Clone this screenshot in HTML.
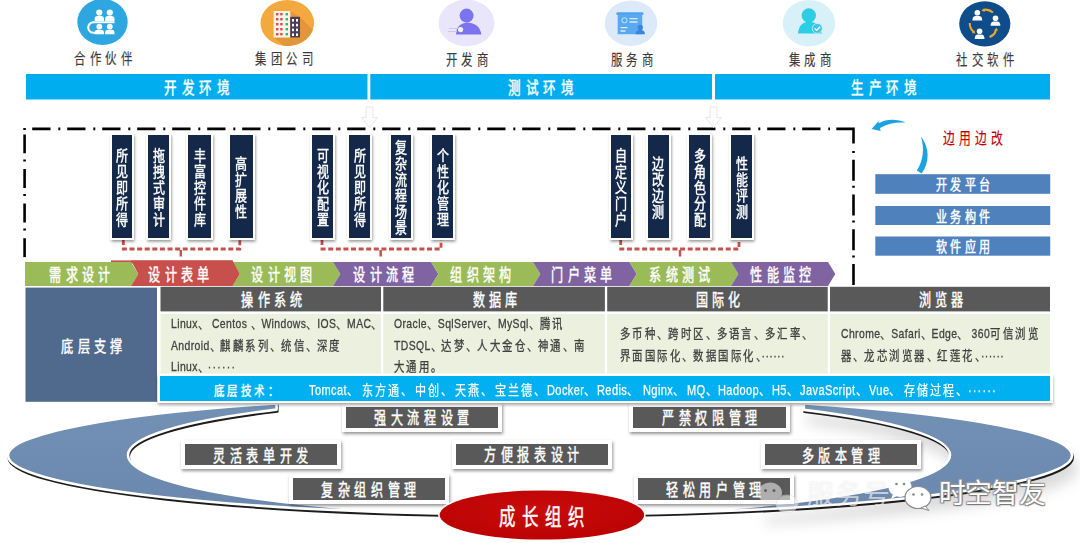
<!DOCTYPE html>
<html lang="zh-CN">
<head>
<meta charset="utf-8">
<title>低代码平台架构图</title>
<style>
html,body{margin:0;padding:0;background:#fff;}
body{width:1080px;height:543px;overflow:hidden;position:relative;font-family:"Liberation Sans", sans-serif;}
#stage{position:absolute;left:0;top:0;width:1080px;height:543px;overflow:hidden;background:#fff;}
svg{position:absolute;left:0;top:0;}
.t{position:absolute;white-space:nowrap;margin:0;}
.t.c{transform-origin:50% 50%;}
.s{-webkit-text-stroke:.45px currentColor;}
.s2{-webkit-text-stroke:.15px currentColor;}
.t.l{transform-origin:0 50%;}
.b{position:absolute;}
.vb{position:absolute;background:#14294a;border:2.5px solid #fff;box-shadow:.5px 1.5px 3px rgba(0,0,0,.45);box-sizing:border-box;}
.vt{position:absolute;color:#fff;text-align:center;transform-origin:50% 50%;}
.gb{position:absolute;background:#595959;border:4px solid #fff;box-shadow:1px 2px 3px rgba(0,0,0,.42);box-sizing:border-box;}
</style>
</head>
<body>
<div id="stage">

<svg width="1080" height="543" viewBox="0 0 1080 543">
<defs>
<filter id="rs" x="-10%" y="-30%" width="120%" height="170%"><feGaussianBlur stdDeviation="7"/></filter>
<filter id="rb" x="-2%" y="-5%" width="104%" height="110%"><feGaussianBlur stdDeviation=".6"/></filter>
<linearGradient id="rg" x1="0" y1="0" x2="0" y2="1"><stop offset="0" stop-color="#7391b5"/><stop offset="1" stop-color="#6a87ad"/></linearGradient>
<radialGradient id="redg" cx="50%" cy="40%" r="60%"><stop offset="0" stop-color="#c90b0b"/><stop offset="1" stop-color="#bb0303"/></radialGradient>
</defs>
<clipPath id="cr"><rect x="760" y="380" width="320" height="163"/></clipPath>
<g filter="url(#rs)" transform="translate(5,13)"><g clip-path="url(#cr)"><path d="M 276.6 403.37 A 532 60 0 0 0 8 455.5 A 532 59 0 0 0 540 514.5 A 532 59 0 0 0 1072 455.5 A 532 60 0 0 0 803.8 403.40 L 803.8 409.88 A 411 59 0 0 1 950 455 A 411 60 0 0 1 539 515 A 411 60 0 0 1 128 455 A 411 59 0 0 1 276.6 409.59 Z" fill="#000" fill-opacity=".14" stroke="#000" stroke-opacity=".14" stroke-width="2"/></g></g>
<g filter="url(#rb)"><path d="M 276.6 403.37 A 532 60 0 0 0 8 455.5 A 532 59 0 0 0 540 514.5 A 532 59 0 0 0 1072 455.5 A 532 60 0 0 0 803.8 403.40 L 803.8 409.88 A 411 59 0 0 1 950 455 A 411 60 0 0 1 539 515 A 411 60 0 0 1 128 455 A 411 59 0 0 1 276.6 409.59 Z" fill="#1c1c1c" stroke="#1c1c1c" stroke-width="2.6" stroke-linejoin="round" transform="translate(.7,1.9)"/></g>
<path d="M 276.6 403.37 A 532 60 0 0 0 8 455.5 A 532 59 0 0 0 540 514.5 A 532 59 0 0 0 1072 455.5 A 532 60 0 0 0 803.8 403.40 L 803.8 409.88 A 411 59 0 0 1 950 455 A 411 60 0 0 1 539 515 A 411 60 0 0 1 128 455 A 411 59 0 0 1 276.6 409.59 Z" fill="url(#rg)" stroke="#fff" stroke-width="2.6" stroke-linejoin="round"/>
<g fill="none" stroke="#000" stroke-width="2.6">
<path d="M 32.2 128.9 H 830" stroke-dasharray="18.3 7.8 2 6.9"/>
<path d="M 836.3 128.9 H 853.5 V 143.5"/>
<path d="M 853.5 151 V 286.5" stroke-dasharray="2 6.7 21 5.1"/>
<path d="M 24.6 128 v 2"/>
<path d="M 24.6 134.4 V 257.5" stroke-dasharray="18.9 6.1 2 7.6"/>
</g>
<rect x="26" y="74" width="341.5" height="25.5" fill="#00adef"/>
<rect x="370.3" y="74" width="341.7" height="25.5" fill="#00adef"/>
<rect x="715" y="74" width="335" height="25.5" fill="#00adef"/>
<path d="M 369.5 107 h7 v10.5 h4.5 l-8 10 l-8 -10 h4.5 z" fill="#fdfdfd" stroke="#e8e8e8" stroke-width="1" transform="translate(-3.5,0)"/>
<path d="M 713.5 107 h7 v10.5 h4.5 l-8 10 l-8 -10 h4.5 z" fill="#fdfdfd" stroke="#e8e8e8" stroke-width="1" transform="translate(-3.5,0)"/>
<path d="M 123.3 240 V 249 H 239.8 V 240" fill="none" stroke="#c7504d" stroke-width="2.8" stroke-dasharray="5 2.6"/>
<path d="M 180.8 250 V 256.5" fill="none" stroke="#c7504d" stroke-width="2.5"/>
<path d="M 322 240 V 249 H 441 V 240" fill="none" stroke="#c7504d" stroke-width="2.8" stroke-dasharray="5 2.6"/>
<path d="M 380.7 250 V 256.5" fill="none" stroke="#c7504d" stroke-width="2.5"/>
<path d="M 620.7 240 V 249 H 739 V 240" fill="none" stroke="#c7504d" stroke-width="2.8" stroke-dasharray="5 2.6"/>
<path d="M 680 250 V 256.5" fill="none" stroke="#c7504d" stroke-width="2.5"/>
<rect x="111" y="260.4" width="121.5" height="3" fill="#c7504d"/>
<polygon points="25,262 131,262 138.3,273.95 131,285.9 25,285.9" fill="#9bbb59"/>
<polygon points="232.5,262 333,262 340.3,273.95 333,285.9 232.5,285.9 239.8,273.95" fill="#9bbb59"/>
<polygon points="333,262 431,262 438.3,273.95 431,285.9 333,285.9 340.3,273.95" fill="#8064a2"/>
<polygon points="431,262 533,262 540.3,273.95 533,285.9 431,285.9 438.3,273.95" fill="#9bbb59"/>
<polygon points="533,262 629.4,262 636.7,273.95 629.4,285.9 533,285.9 540.3,273.95" fill="#8064a2"/>
<polygon points="629.4,262 731,262 738.3,273.95 731,285.9 629.4,285.9 636.7,273.95" fill="#9bbb59"/>
<polygon points="731,262 828,262 835.3,273.95 828,285.9 731,285.9 738.3,273.95" fill="#8064a2"/>
<polygon points="131,260.4 232.5,260.4 239.8,273.95 232.5,286 131,286 138.3,273.95" fill="#c7504d"/>
<rect x="875.3" y="174.2" width="174.9" height="19.6" fill="#4f81bd"/>
<rect x="875.3" y="206" width="174.9" height="19" fill="#4f81bd"/>
<rect x="875.3" y="236.5" width="174.9" height="19.2" fill="#4f81bd"/>
<path d="M 871.6 128.9 L 878.3 121.2 L 878.8 123.2 C 886 119 897 118.6 905.6 122.6 C 897 121.8 888 123.4 880 128 L 880.6 131 Z" fill="#1aa3e0"/>
<path d="M 921 136.4 C 929.5 147 930 162 921.6 173.6 L 916.8 170.6 C 923.4 160 924.6 149 921 136.4 Z" fill="#1aa3e0"/>
<rect x="157" y="286" width="897" height="118.5" fill="#fff"/>
<rect x="25.5" y="287.6" width="131.5" height="114.2" fill="#4f6a8c"/>
<rect x="160.5" y="286.8" width="220.5" height="24.6" fill="#595959"/>
<rect x="160.5" y="313.9" width="220.5" height="59.4" fill="#ebf1de"/>
<rect x="383.3" y="286.8" width="221.6" height="24.6" fill="#595959"/>
<rect x="383.3" y="313.9" width="221.6" height="59.4" fill="#ebf1de"/>
<rect x="607.2" y="286.8" width="220.5" height="24.6" fill="#595959"/>
<rect x="607.2" y="313.9" width="220.5" height="59.4" fill="#ebf1de"/>
<rect x="830" y="286.8" width="220" height="24.6" fill="#595959"/>
<rect x="830" y="313.9" width="220" height="59.4" fill="#ebf1de"/>
</svg>
<div class="gb" style="left:341.6px;top:402.7px;width:160.4px;height:29.3px;"></div>
<div class="t c s" style="left:421.8px;top:407.4px;font-size:16.5px;line-height:22.5px;color:#fff;letter-spacing:5.8px;padding-left:5.8px;font-weight:400;transform:translateX(-50%) scaleX(0.73);">强大流程设置</div>
<div class="gb" style="left:628.6px;top:402.7px;width:161.8px;height:29.3px;"></div>
<div class="t c s" style="left:709.5px;top:407.4px;font-size:16.5px;line-height:22.5px;color:#fff;letter-spacing:5.8px;padding-left:5.8px;font-weight:400;transform:translateX(-50%) scaleX(0.73);">严禁权限管理</div>
<div class="gb" style="left:181.0px;top:440.0px;width:159.7px;height:29.0px;"></div>
<div class="t c s" style="left:260.9px;top:444.6px;font-size:16.5px;line-height:22.5px;color:#fff;letter-spacing:5.8px;padding-left:5.8px;font-weight:400;transform:translateX(-50%) scaleX(0.73);">灵活表单开发</div>
<div class="gb" style="left:451.6px;top:439.8px;width:160.4px;height:29.2px;"></div>
<div class="t c s" style="left:531.8px;top:444.4px;font-size:16.5px;line-height:22.5px;color:#fff;letter-spacing:5.8px;padding-left:5.8px;font-weight:400;transform:translateX(-50%) scaleX(0.73);">方便报表设计</div>
<div class="gb" style="left:761.0px;top:440.0px;width:159.7px;height:29.0px;"></div>
<div class="t c s" style="left:840.9px;top:444.6px;font-size:16.5px;line-height:22.5px;color:#fff;letter-spacing:5.8px;padding-left:5.8px;font-weight:400;transform:translateX(-50%) scaleX(0.73);">多版本管理</div>
<div class="gb" style="left:289.3px;top:474.3px;width:159.3px;height:29.3px;"></div>
<div class="t c s" style="left:369.0px;top:479.0px;font-size:16.5px;line-height:22.5px;color:#fff;letter-spacing:5.8px;padding-left:5.8px;font-weight:400;transform:translateX(-50%) scaleX(0.73);">复杂组织管理</div>
<div class="gb" style="left:633.5px;top:474.3px;width:160.5px;height:29.3px;"></div>
<div class="t c s" style="left:713.8px;top:479.0px;font-size:16.5px;line-height:22.5px;color:#fff;letter-spacing:5.8px;padding-left:5.8px;font-weight:400;transform:translateX(-50%) scaleX(0.73);">轻松用户管理</div>
<div class="b" style="left:157.5px;top:373.6px;width:895.5px;height:29.6px;background:#fff;box-shadow:0 2px 3px rgba(0,0,0,.35);"></div>
<div class="b" style="left:159.7px;top:375.8px;width:890px;height:25.2px;background:#00b0f0;"></div>
<svg width="1080" height="75" viewBox="0 0 1080 75">
<ellipse cx="102.5" cy="22" rx="25.2" ry="23" fill="#2ea7e0"/>
<g fill="#fff">
<circle cx="99.3" cy="12.6" r="3.1"/>
<path d="M 94.6 21.3 v-2.2 q0 -3 3 -3 h3.4 q3 0 3 3 v2.2 z"/>
<circle cx="99.3" cy="26.6" r="2.9"/>
<path d="M 94.6 34.3 v-1.6 q0 -3 3 -3 h3.4 q3 0 3 3 v1.6 z"/>
<circle cx="109.8" cy="12.6" r="3.1"/>
<path d="M 105.1 21.3 v-2.2 q0 -3 3 -3 h3.4 q3 0 3 3 v2.2 z"/>
<circle cx="109.8" cy="26.6" r="2.9"/>
<path d="M 105.1 34.3 v-1.6 q0 -3 3 -3 h3.4 q3 0 3 3 v1.6 z"/>
<rect x="93" y="21.3" width="21.5" height="1.9"/>
</g>
<path d="M 93.5 22.2 a 5.1 5.1 0 0 0 0 10.6 h 2" fill="none" stroke="#fff" stroke-width="2"/>
<clipPath id="c2"><ellipse cx="287.3" cy="23" rx="26.8" ry="22.9"/></clipPath>
<ellipse cx="287.3" cy="23" rx="26.8" ry="22.9" fill="#f4a93f"/>
<g clip-path="url(#c2)"><polygon points="290,11 300,17 330,47 300,60 274,37.5 300,37.5" fill="#e2963a"/></g>
<rect x="273.6" y="11" width="16.6" height="26.5" fill="#fdf3e4"/>
<rect x="290.2" y="16.8" width="9.8" height="20.7" fill="#4a3d5c"/>
<rect x="276" y="13" width="2.4" height="2.4" fill="#d9475a"/><rect x="280.2" y="13" width="2.4" height="2.4" fill="#d9475a"/><rect x="285.6" y="13" width="2.4" height="2.4" fill="#2bb18c"/>
<rect x="276" y="18" width="2.4" height="2.4" fill="#d9475a"/><rect x="280.2" y="18" width="2.4" height="2.4" fill="#d9475a"/><rect x="285.6" y="18" width="2.4" height="2.4" fill="#2bb18c"/>
<rect x="276" y="23" width="2.4" height="2.4" fill="#d9475a"/><rect x="280.2" y="23" width="2.4" height="2.4" fill="#d9475a"/><rect x="285.6" y="23" width="2.4" height="2.4" fill="#2bb18c"/>
<rect x="276" y="28" width="2.4" height="2.4" fill="#d9475a"/><rect x="280.2" y="28" width="2.4" height="2.4" fill="#d9475a"/><rect x="285.6" y="28" width="2.4" height="2.4" fill="#2bb18c"/>
<rect x="276" y="33" width="2.4" height="2.4" fill="#d9475a"/><rect x="280.2" y="33" width="2.4" height="2.4" fill="#d9475a"/><rect x="285.6" y="33" width="2.4" height="2.4" fill="#2bb18c"/>
<rect x="292" y="19" width="2" height="2.6" fill="#fff"/><rect x="296" y="19" width="2" height="2.6" fill="#fff"/>
<rect x="292" y="23.8" width="2" height="2.6" fill="#fff"/><rect x="296" y="23.8" width="2" height="2.6" fill="#fff"/>
<rect x="292" y="28.6" width="2" height="2.6" fill="#fff"/><rect x="296" y="28.6" width="2" height="2.6" fill="#fff"/>
<rect x="292" y="33.4" width="2" height="2.6" fill="#fff"/><rect x="296" y="33.4" width="2" height="2.6" fill="#fff"/>
<ellipse cx="466.5" cy="23" rx="28" ry="23.4" fill="#e9e6fc"/>
<circle cx="466.6" cy="15.6" r="7" fill="#7b74ee"/>
<path d="M 456 34.5 q .5 -11 10.5 -12 q 13.5 .6 14.8 12 z" fill="#7b74ee"/>
<circle cx="460.6" cy="29.6" r="2.6" fill="#f4f2ff"/>
<path d="M 449 28.5 h8 M 448 31.5 h9" stroke="#c9c5f7" stroke-width="1"/>
<ellipse cx="631" cy="23.2" rx="26.2" ry="22.8" fill="#dce9f8"/>
<rect x="616.4" y="12.2" width="27.1" height="2.8" rx="1" fill="#4da3f0"/>
<rect x="617.7" y="14.5" width="24.5" height="19.7" fill="#58a9f2"/>
<circle cx="624.5" cy="20.3" r="2.6" fill="none" stroke="#cfe6fb" stroke-width="1"/>
<path d="M 629.5 18.6 h8 M 629.5 22 h8 M 620.5 27.6 h7 M 620.5 31 h5" stroke="#d9ecfc" stroke-width="1.4"/>
<circle cx="640.3" cy="27.4" r="2.6" fill="#3a86d8"/>
<path d="M 635.6 34.2 q 0 -4.3 4.7 -4.3 q 4.7 0 4.7 4.3 z" fill="#3a86d8"/>
<ellipse cx="809" cy="23.2" rx="26.2" ry="23.2" fill="#d8f1f9"/>
<circle cx="808.8" cy="15.5" r="7.2" fill="#2dcde4"/>
<path d="M 797.9 33.5 q 1.5 -11.8 10.9 -11.8 q 11.5 0 12.9 11.8 z" fill="#2dcde4"/>
<circle cx="817.3" cy="28.4" r="5" fill="#43c4ea" stroke="#d8f1f9" stroke-width=".8"/>
<path d="M 814.7 28.4 l 2 2 l 3.4 -3.6" fill="none" stroke="#fff" stroke-width="1.3"/>
<ellipse cx="984.8" cy="23.8" rx="25.6" ry="22.6" fill="#0f4c8a"/>
<circle cx="977.3" cy="12.8" r="2.8" fill="#fff"/><path d="M 972.4 20.4 q 0 -4.4 3.4 -4.4 h3 q3.4 0 3.4 4.4 z" fill="#fff"/>
<circle cx="995.5" cy="18.2" r="2.8" fill="#fff"/><path d="M 990.6 25.8 q 0 -4.4 3.4 -4.4 h3 q3.4 0 3.4 4.4 z" fill="#fff"/>
<circle cx="979.6" cy="31.3" r="2.8" fill="#fff"/><path d="M 974.7 38.9 q 0 -4.4 3.4 -4.4 h3 q3.4 0 3.4 4.4 z" fill="#fff"/>
<path d="M 993 12.5 q -5 -4 -10 -2.4" fill="none" stroke="#f5a623" stroke-width="2.1"/><path d="M 981.3 10.6 l 3 -2.2 l .4 3.6 z" fill="#f5a623"/>
<path d="M 969.7 23 q .2 6 4.2 9" fill="none" stroke="#f5a623" stroke-width="2.1"/><path d="M 975.4 33.4 l -3.6 -.4 l 2.4 -2.8 z" fill="#f5a623"/>
<path d="M 989.5 37 q 5.5 -2 6.5 -7.5" fill="none" stroke="#f5a623" stroke-width="2.1"/><path d="M 996.3 27.6 l 1.8 3.2 l -3.6 -.2 z" fill="#f5a623"/>
</svg>
<div class="t c s2" style="left:102.8px;top:48.4px;font-size:15.2px;line-height:21.2px;color:#3a3a3a;letter-spacing:6px;padding-left:6px;font-weight:400;transform:translateX(-50%) scaleX(0.75);">合作伙伴</div>
<div class="t c s2" style="left:283.7px;top:48.2px;font-size:15.2px;line-height:21.2px;color:#3a3a3a;letter-spacing:6px;padding-left:6px;font-weight:400;transform:translateX(-50%) scaleX(0.75);">集团公司</div>
<div class="t c s2" style="left:467.0px;top:48.7px;font-size:15.2px;line-height:21.2px;color:#3a3a3a;letter-spacing:6px;padding-left:6px;font-weight:400;transform:translateX(-50%) scaleX(0.75);">开发商</div>
<div class="t c s2" style="left:631.5px;top:48.7px;font-size:15.2px;line-height:21.2px;color:#3a3a3a;letter-spacing:6px;padding-left:6px;font-weight:400;transform:translateX(-50%) scaleX(0.75);">服务商</div>
<div class="t c s2" style="left:810.0px;top:48.7px;font-size:15.2px;line-height:21.2px;color:#3a3a3a;letter-spacing:6px;padding-left:6px;font-weight:400;transform:translateX(-50%) scaleX(0.75);">集成商</div>
<div class="t c s2" style="left:984.8px;top:49.4px;font-size:15.2px;line-height:21.2px;color:#3a3a3a;letter-spacing:6px;padding-left:6px;font-weight:400;transform:translateX(-50%) scaleX(0.75);">社交软件</div>
<div class="t c s" style="left:196.5px;top:77.2px;font-size:16.5px;line-height:22.5px;color:#fff;letter-spacing:6px;padding-left:6px;font-weight:500;transform:translateX(-50%) scaleX(0.76);">开发环境</div>
<div class="t c s" style="left:540.5px;top:77.2px;font-size:16.5px;line-height:22.5px;color:#fff;letter-spacing:6px;padding-left:6px;font-weight:500;transform:translateX(-50%) scaleX(0.76);">测试环境</div>
<div class="t c s" style="left:883.5px;top:77.2px;font-size:16.5px;line-height:22.5px;color:#fff;letter-spacing:6px;padding-left:6px;font-weight:500;transform:translateX(-50%) scaleX(0.76);">生产环境</div>
<div class="vb" style="left:109.6px;top:133.2px;width:24.7px;height:107.2px;"></div>
<div class="vt s" style="left:114.0px;top:147.5px;width:16px;font-size:15px;line-height:16px;font-weight:500;transform:scaleX(.8);">所<br>见<br>即<br>所<br>得</div>
<div class="vb" style="left:145.8px;top:133.2px;width:25.7px;height:107.2px;"></div>
<div class="vt s" style="left:150.7px;top:147.5px;width:16px;font-size:15px;line-height:16px;font-weight:500;transform:scaleX(.8);">拖<br>拽<br>式<br>审<br>计</div>
<div class="vb" style="left:186.4px;top:133.2px;width:26.7px;height:107.2px;"></div>
<div class="vt s" style="left:191.8px;top:147.5px;width:16px;font-size:15px;line-height:16px;font-weight:500;transform:scaleX(.8);">丰<br>富<br>控<br>件<br>库</div>
<div class="vb" style="left:227.8px;top:133.2px;width:27.0px;height:107.2px;"></div>
<div class="vt s" style="left:233.3px;top:155.5px;width:16px;font-size:15px;line-height:16px;font-weight:500;transform:scaleX(.8);">高<br>扩<br>展<br>性</div>
<div class="vb" style="left:310.4px;top:133.2px;width:24.7px;height:107.2px;"></div>
<div class="vt s" style="left:314.8px;top:147.5px;width:16px;font-size:15px;line-height:16px;font-weight:500;transform:scaleX(.8);">可<br>视<br>化<br>配<br>置</div>
<div class="vb" style="left:347.0px;top:133.2px;width:25.3px;height:107.2px;"></div>
<div class="vt s" style="left:351.6px;top:147.5px;width:16px;font-size:15px;line-height:16px;font-weight:500;transform:scaleX(.8);">所<br>见<br>即<br>所<br>得</div>
<div class="vb" style="left:388.5px;top:133.2px;width:24.8px;height:107.2px;"></div>
<div class="vt s" style="left:392.9px;top:139.5px;width:16px;font-size:15px;line-height:16px;font-weight:500;transform:scaleX(.8);">复<br>杂<br>流<br>程<br>场<br>景</div>
<div class="vb" style="left:430.2px;top:133.2px;width:25.0px;height:107.2px;"></div>
<div class="vt s" style="left:434.7px;top:147.5px;width:16px;font-size:15px;line-height:16px;font-weight:500;transform:scaleX(.8);">个<br>性<br>化<br>管<br>理</div>
<div class="vb" style="left:608.8px;top:133.2px;width:24.4px;height:107.2px;"></div>
<div class="vt s" style="left:613.0px;top:147.5px;width:16px;font-size:15px;line-height:16px;font-weight:500;transform:scaleX(.8);">自<br>定<br>义<br>门<br>户</div>
<div class="vb" style="left:645.7px;top:133.2px;width:25.0px;height:107.2px;"></div>
<div class="vt s" style="left:650.2px;top:155.5px;width:16px;font-size:15px;line-height:16px;font-weight:500;transform:scaleX(.8);">边<br>改<br>边<br>测</div>
<div class="vb" style="left:687.0px;top:133.2px;width:25.3px;height:107.2px;"></div>
<div class="vt s" style="left:691.6px;top:147.5px;width:16px;font-size:15px;line-height:16px;font-weight:500;transform:scaleX(.8);">多<br>角<br>色<br>分<br>配</div>
<div class="vb" style="left:729.3px;top:133.2px;width:24.7px;height:107.2px;"></div>
<div class="vt s" style="left:733.6px;top:155.5px;width:16px;font-size:15px;line-height:16px;font-weight:500;transform:scaleX(.8);">性<br>能<br>评<br>测</div>
<div class="t c s" style="left:80.3px;top:264.4px;font-size:17px;line-height:23px;color:#fff;letter-spacing:6px;padding-left:6px;font-weight:400;transform:translateX(-50%) scaleX(0.71);">需求设计</div>
<div class="t c s" style="left:179.0px;top:264.4px;font-size:17px;line-height:23px;color:#fff;letter-spacing:6px;padding-left:6px;font-weight:400;transform:translateX(-50%) scaleX(0.71);">设计表单</div>
<div class="t c s" style="left:281.7px;top:264.4px;font-size:17px;line-height:23px;color:#fff;letter-spacing:6px;padding-left:6px;font-weight:400;transform:translateX(-50%) scaleX(0.71);">设计视图</div>
<div class="t c s" style="left:383.7px;top:264.4px;font-size:17px;line-height:23px;color:#fff;letter-spacing:6px;padding-left:6px;font-weight:400;transform:translateX(-50%) scaleX(0.71);">设计流程</div>
<div class="t c s" style="left:480.5px;top:264.4px;font-size:17px;line-height:23px;color:#fff;letter-spacing:6px;padding-left:6px;font-weight:400;transform:translateX(-50%) scaleX(0.71);">组织架构</div>
<div class="t c s" style="left:582.2px;top:264.4px;font-size:17px;line-height:23px;color:#fff;letter-spacing:6px;padding-left:6px;font-weight:400;transform:translateX(-50%) scaleX(0.71);">门户菜单</div>
<div class="t c s" style="left:680.0px;top:264.4px;font-size:17px;line-height:23px;color:#fff;letter-spacing:6px;padding-left:6px;font-weight:400;transform:translateX(-50%) scaleX(0.71);">系统测试</div>
<div class="t c s" style="left:781.2px;top:264.4px;font-size:17px;line-height:23px;color:#fff;letter-spacing:6px;padding-left:6px;font-weight:400;transform:translateX(-50%) scaleX(0.71);">性能监控</div>
<div class="t c s2" style="left:973.0px;top:127.8px;font-size:15.5px;line-height:21.5px;color:#c00000;letter-spacing:5.2px;padding-left:5.2px;font-weight:400;transform:translateX(-50%) scaleX(0.76);">边用边改</div>
<div class="t c s" style="left:962.5px;top:175.1px;font-size:14.5px;line-height:20.5px;color:#fff;letter-spacing:5px;padding-left:5px;font-weight:500;transform:translateX(-50%) scaleX(0.76);">开发平台</div>
<div class="t c s" style="left:962.5px;top:206.6px;font-size:14.5px;line-height:20.5px;color:#fff;letter-spacing:5px;padding-left:5px;font-weight:500;transform:translateX(-50%) scaleX(0.76);">业务构件</div>
<div class="t c s" style="left:962.5px;top:237.1px;font-size:14.5px;line-height:20.5px;color:#fff;letter-spacing:5px;padding-left:5px;font-weight:500;transform:translateX(-50%) scaleX(0.76);">软件应用</div>
<div class="t c s" style="left:92.0px;top:335.7px;font-size:16px;line-height:22px;color:#fff;letter-spacing:5.5px;padding-left:5.5px;font-weight:500;transform:translateX(-50%) scaleX(0.76);">底层支撑</div>
<div class="t c s" style="left:272.0px;top:288.9px;font-size:17px;line-height:23px;color:#fff;letter-spacing:6px;padding-left:6px;font-weight:400;transform:translateX(-50%) scaleX(0.71);">操作系统</div>
<div class="t c s" style="left:494.5px;top:288.9px;font-size:17px;line-height:23px;color:#fff;letter-spacing:6px;padding-left:6px;font-weight:400;transform:translateX(-50%) scaleX(0.71);">数据库</div>
<div class="t c s" style="left:718.0px;top:288.9px;font-size:17px;line-height:23px;color:#fff;letter-spacing:6px;padding-left:6px;font-weight:400;transform:translateX(-50%) scaleX(0.71);">国际化</div>
<div class="t c s" style="left:940.8px;top:288.9px;font-size:17px;line-height:23px;color:#fff;letter-spacing:6px;padding-left:6px;font-weight:400;transform:translateX(-50%) scaleX(0.71);">浏览器</div>
<div class="t l" style="left:170.8px;top:313.5px;font-size:13px;line-height:19px;color:#404040;letter-spacing:0.5px;font-weight:400;transform:scaleX(0.8);-webkit-text-stroke:.3px #404040;">Linux、 Centos 、Windows、IOS、MAC、</div>
<div class="t l" style="left:170.8px;top:335.8px;font-size:13px;line-height:19px;color:#404040;letter-spacing:0.5px;font-weight:400;transform:scaleX(0.8);-webkit-text-stroke:.3px #404040;">Android、<span style="letter-spacing:2.6px">麒麟系列</span>、<span style="letter-spacing:2.6px">统信</span>、<span style="letter-spacing:2.6px">深度</span></div>
<div class="t l" style="left:170.8px;top:357.2px;font-size:13px;line-height:19px;color:#404040;letter-spacing:0.5px;font-weight:400;transform:scaleX(0.8);-webkit-text-stroke:.3px #404040;">Linux、<span style="letter-spacing:1.6px;margin-left:5px">······</span></div>
<div class="t l" style="left:394.4px;top:313.5px;font-size:13px;line-height:19px;color:#404040;letter-spacing:0.5px;font-weight:400;transform:scaleX(0.8);-webkit-text-stroke:.3px #404040;">Oracle、SqlServer、MySql、<span style="letter-spacing:2.6px">腾讯</span></div>
<div class="t l" style="left:394.4px;top:335.8px;font-size:13px;line-height:19px;color:#404040;letter-spacing:0.5px;font-weight:400;transform:scaleX(0.8);-webkit-text-stroke:.3px #404040;">TDSQL、<span style="letter-spacing:2.6px">达梦</span>、<span style="letter-spacing:2.6px">人大金仓</span>、<span style="letter-spacing:2.6px">神通</span>、<span style="letter-spacing:2.6px">南</span></div>
<div class="t l" style="left:394.4px;top:357.2px;font-size:13px;line-height:19px;color:#404040;letter-spacing:0.5px;font-weight:400;transform:scaleX(0.8);-webkit-text-stroke:.3px #404040;"><span style="letter-spacing:2.6px">大通用</span>。</div>
<div class="t l" style="left:619.7px;top:323.8px;font-size:13px;line-height:19px;color:#404040;letter-spacing:0.5px;font-weight:400;transform:scaleX(0.8);-webkit-text-stroke:.3px #404040;"><span style="letter-spacing:2.6px">多币种</span>、<span style="letter-spacing:2.6px">跨时区</span>、<span style="letter-spacing:2.6px">多语言</span>、<span style="letter-spacing:2.6px">多汇率</span>、</div>
<div class="t l" style="left:619.7px;top:346.1px;font-size:13px;line-height:19px;color:#404040;letter-spacing:0.5px;font-weight:400;transform:scaleX(0.8);-webkit-text-stroke:.3px #404040;"><span style="letter-spacing:2.6px">界面国际化</span>、<span style="letter-spacing:2.6px">数据国际化</span>、······</div>
<div class="t l" style="left:840.6px;top:323.8px;font-size:13px;line-height:19px;color:#404040;letter-spacing:0.5px;font-weight:400;transform:scaleX(0.8);-webkit-text-stroke:.3px #404040;">Chrome、Safari、Edge、 360<span style="letter-spacing:2.6px">可信浏览</span></div>
<div class="t l" style="left:840.6px;top:346.1px;font-size:13px;line-height:19px;color:#404040;letter-spacing:0.5px;font-weight:400;transform:scaleX(0.8);-webkit-text-stroke:.3px #404040;"><span style="letter-spacing:2.6px">器</span>、<span style="letter-spacing:2.6px">龙芯浏览器</span>、<span style="letter-spacing:2.6px">红莲花</span>、······</div>
<div class="t c s" style="left:246.0px;top:381.1px;font-size:13px;line-height:19px;color:#fff;letter-spacing:4px;padding-left:4px;font-weight:500;transform:translateX(-50%) scaleX(0.8);">底层技术：</div>
<div class="t l" style="left:308.6px;top:380.7px;font-size:13.8px;line-height:19.8px;color:#fff;letter-spacing:0.5px;font-weight:400;transform:scaleX(0.8);-webkit-text-stroke:.25px #fff;">Tomcat、</div>
<div class="t l" style="left:362.2px;top:380.7px;font-size:13.8px;line-height:19.8px;color:#fff;letter-spacing:0.5px;font-weight:400;transform:scaleX(0.8);-webkit-text-stroke:.25px #fff;"><span style="letter-spacing:2.4px">东方通</span>、</div>
<div class="t l" style="left:415.4px;top:380.7px;font-size:13.8px;line-height:19.8px;color:#fff;letter-spacing:0.5px;font-weight:400;transform:scaleX(0.8);-webkit-text-stroke:.25px #fff;"><span style="letter-spacing:2.4px">中创</span>、</div>
<div class="t l" style="left:455.0px;top:380.7px;font-size:13.8px;line-height:19.8px;color:#fff;letter-spacing:0.5px;font-weight:400;transform:scaleX(0.8);-webkit-text-stroke:.25px #fff;"><span style="letter-spacing:2.4px">天燕</span>、</div>
<div class="t l" style="left:494.7px;top:380.7px;font-size:13.8px;line-height:19.8px;color:#fff;letter-spacing:0.5px;font-weight:400;transform:scaleX(0.8);-webkit-text-stroke:.25px #fff;"><span style="letter-spacing:2.4px">宝兰德</span>、</div>
<div class="t l" style="left:546.6px;top:380.7px;font-size:13.8px;line-height:19.8px;color:#fff;letter-spacing:0.5px;font-weight:400;transform:scaleX(0.8);-webkit-text-stroke:.25px #fff;">Docker、</div>
<div class="t l" style="left:596.9px;top:380.7px;font-size:13.8px;line-height:19.8px;color:#fff;letter-spacing:0.5px;font-weight:400;transform:scaleX(0.8);-webkit-text-stroke:.25px #fff;">Redis、</div>
<div class="t l" style="left:642.7px;top:380.7px;font-size:13.8px;line-height:19.8px;color:#fff;letter-spacing:0.5px;font-weight:400;transform:scaleX(0.8);-webkit-text-stroke:.25px #fff;">Nginx、</div>
<div class="t l" style="left:686.6px;top:380.7px;font-size:13.8px;line-height:19.8px;color:#fff;letter-spacing:0.5px;font-weight:400;transform:scaleX(0.8);-webkit-text-stroke:.25px #fff;">MQ、</div>
<div class="t l" style="left:718.3px;top:380.7px;font-size:13.8px;line-height:19.8px;color:#fff;letter-spacing:0.5px;font-weight:400;transform:scaleX(0.8);-webkit-text-stroke:.25px #fff;">Hadoop、</div>
<div class="t l" style="left:771.9px;top:380.7px;font-size:13.8px;line-height:19.8px;color:#fff;letter-spacing:0.5px;font-weight:400;transform:scaleX(0.8);-webkit-text-stroke:.25px #fff;">H5、</div>
<div class="t l" style="left:800.4px;top:380.7px;font-size:13.8px;line-height:19.8px;color:#fff;letter-spacing:0.5px;font-weight:400;transform:scaleX(0.8);-webkit-text-stroke:.25px #fff;">JavaScript、</div>
<div class="t l" style="left:868.8px;top:380.7px;font-size:13.8px;line-height:19.8px;color:#fff;letter-spacing:0.5px;font-weight:400;transform:scaleX(0.8);-webkit-text-stroke:.25px #fff;">Vue、</div>
<div class="t l" style="left:904.4px;top:380.7px;font-size:13.8px;line-height:19.8px;color:#fff;letter-spacing:0.5px;font-weight:400;transform:scaleX(0.8);-webkit-text-stroke:.25px #fff;"><span style="letter-spacing:2.4px">存储过程</span>、</div>
<div class="t l" style="left:968.3px;top:380.7px;font-size:13.8px;line-height:19.8px;color:#fff;letter-spacing:0.5px;font-weight:400;transform:scaleX(0.8);-webkit-text-stroke:.25px #fff;"><span style="letter-spacing:1.4px">······</span></div>
<svg width="1080" height="543" viewBox="0 0 1080 543" style="pointer-events:none">
<ellipse cx="541.9" cy="515" rx="102.3" ry="24.6" fill="url(#redg)" stroke="#fff" stroke-width="3" paint-order="stroke"/>
<g opacity=".55"><ellipse cx="770" cy="493" rx="12" ry="10.5" fill="#f4f4f4"/><circle cx="765.5" cy="490.5" r="1.5" fill="#666"/><circle cx="774" cy="490.5" r="1.5" fill="#666"/><ellipse cx="787" cy="504" rx="11" ry="9" fill="#fff" stroke="#ddd" stroke-width="1"/></g>
<g><ellipse cx="900" cy="487" rx="11.5" ry="10" fill="#fff"/><path d="M 893 494 l -2 5 l 6 -3 z" fill="#fff"/><circle cx="896.5" cy="484" r="1.3" fill="#888"/><circle cx="904" cy="484" r="1.3" fill="#888"/><ellipse cx="918" cy="497.5" rx="13" ry="11" fill="#fff" stroke="#8a8a8a" stroke-width="1.2"/><path d="M 925 506 l 4 4.5 l -8 -2.5 z" fill="#fff" stroke="#8a8a8a" stroke-width="1"/><circle cx="913.5" cy="494.5" r="1.3" fill="#888"/><circle cx="922" cy="494.5" r="1.3" fill="#888"/></g>
</svg>
<div class="t c s" style="left:542.0px;top:504.4px;font-size:22.5px;line-height:28.5px;color:#fff;letter-spacing:8.2px;padding-left:8.2px;font-weight:400;transform:translateX(-50%) scaleX(0.73);">成长组织</div>
<div class="t c " style="left:848.0px;top:478.5px;font-size:27px;line-height:33px;color:rgba(255,255,255,.6);letter-spacing:1px;padding-left:1px;font-weight:400;transform:translateX(-50%) scaleX(1);text-shadow:0 0 2px rgba(120,120,120,.18);">服务号</div>
<div class="t c " style="left:991.5px;top:478.0px;font-size:27px;line-height:33px;color:#fff;letter-spacing:0px;padding-left:0px;font-weight:400;transform:translateX(-50%) scaleX(0.99);text-shadow:1px 1px 1px #777,-1px -1px 1px #999,1px -1px 1px #999,-1px 1px 1px #888;">时空智友</div>
</div>
</body>
</html>
